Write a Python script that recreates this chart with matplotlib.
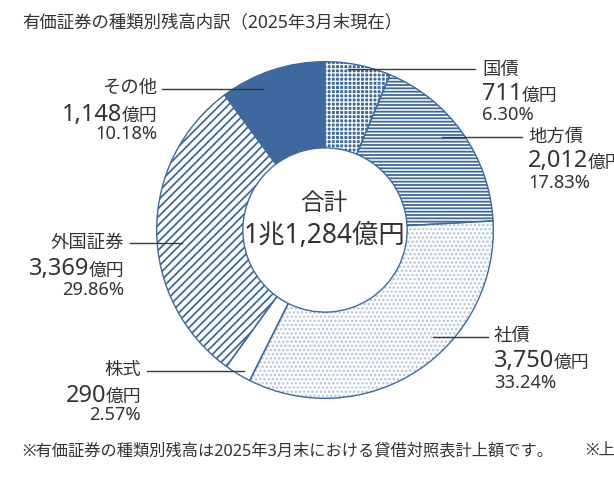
import matplotlib
matplotlib.use('Agg')
import matplotlib.pyplot as plt
from matplotlib.lines import Line2D

plt.rcParams['font.family'] = ['Noto Sans', 'Noto Sans CJK JP', 'DejaVu Sans']
plt.rcParams['hatch.linewidth'] = 1.4

# ---- data ----
title = '有価証券の種類別残高内訳（2025年3月末現在）'
categories = ['国債', '地方債', '社債', '株式', '外国証券', 'その他']
amounts = [711, 2012, 3750, 290, 3369, 1148]
amount_labels = ['711', '2,012', '3,750', '290', '3,369', '1,148']
percents = ['6.30%', '17.83%', '33.24%', '2.57%', '29.86%', '10.18%']
unit = '億円'
total_title = '合計'
total_label = '1兆1,284億円'
footnote = '※有価証券の種類別残高は2025年3月末における貸借対照表計上額です。'
footnote2 = '※上'

# ---- style ----
BLUE = '#3d699f'
LIGHT = '#b3c3e0'
TXT = '#333333'
styles = [
    dict(facecolor=BLUE, edgecolor='white', hatch='++++', hlw=0.9),   # 国債
    dict(facecolor='white', edgecolor=BLUE, hatch='-----', hlw=1.3),  # 地方債
    dict(facecolor='white', edgecolor=LIGHT, hatch='....', hlw=1.2),  # 社債
    dict(facecolor='white', edgecolor='white', hatch=None, hlw=1.0),  # 株式
    dict(facecolor='white', edgecolor=BLUE, hatch='////', hlw=1.3),   # 外国証券
    dict(facecolor=BLUE, edgecolor=BLUE, hatch=None, hlw=1.0),        # その他
]
# layout (pixels, top-left origin): side, text x, name y, amount y, pct y, leader x0, x1, y
layout = [
    ('L', 482, 70, 92, 115, 348, 475, 69),
    ('L', 528, 137, 159, 183, 442, 522, 137),
    ('L', 494, 336, 359, 383, 433, 488, 337),
    ('R', 141, 370, 393, 415, 147, 244, 371),
    ('R', 124, 243, 267, 290, 130, 182, 243),
    ('R', 157, 88, 112, 134, 162, 263, 89),
]

W, H = 614, 491
fig = plt.figure(figsize=(W / 100, H / 100), dpi=100)
cx, cy, R = 325, 230, 170
ax = fig.add_axes([(cx - R) / W, (H - cy - R) / H, 2 * R / W, 2 * R / H])
ring = 0.512

wedges, _ = ax.pie(amounts, startangle=90, counterclock=False, radius=1,
                   wedgeprops=dict(width=ring, linewidth=0))
for w, st in zip(wedges, styles):
    w.set_facecolor(st['facecolor'])
    w.set_edgecolor(st['edgecolor'])
    w.set_linewidth(0)
    if st['hatch']:
        w.set_hatch(st['hatch'])
        if hasattr(w, 'set_hatch_linewidth'):
            w.set_hatch_linewidth(st['hlw'])
ax.pie(amounts, startangle=90, counterclock=False, radius=1,
       wedgeprops=dict(width=ring, facecolor='none', edgecolor=BLUE, linewidth=1.0))
ax.set_xlim(-1.01, 1.01)
ax.set_ylim(-1.01, 1.01)
ax.set_aspect('equal')
ax.axis('off')


def fx(x):
    return x / W


def fy(y):
    return 1 - y / H


renderer = fig.canvas.get_renderer()
NAME_FS, PCT_FS, NUM_FS, UNIT_FS = 13.2, 13.2, 17.0, 12.8

for i, (side, tx, ny, ay, py, lx0, lx1, ly) in enumerate(layout):
    ha = 'left' if side == 'L' else 'right'
    fig.text(fx(tx), fy(ny), categories[i], fontsize=NAME_FS, ha=ha, va='center', color=TXT)
    fig.text(fx(tx), fy(py), percents[i], fontsize=PCT_FS, ha=ha, va='center', color=TXT)
    base = ay + 8.5
    if side == 'L':
        t = fig.text(fx(tx), fy(base), amount_labels[i], fontsize=NUM_FS, ha='left',
                     va='baseline', color=TXT)
        bb = t.get_window_extent(renderer)
        fig.text(bb.x1 / W - 1 / W, fy(base), unit, fontsize=UNIT_FS, ha='left',
                 va='baseline', color=TXT)
    else:
        u = fig.text(fx(tx), fy(base), unit, fontsize=UNIT_FS, ha='right',
                     va='baseline', color=TXT)
        bb = u.get_window_extent(renderer)
        fig.text(bb.x0 / W + 1 / W, fy(base), amount_labels[i], fontsize=NUM_FS,
                 ha='right', va='baseline', color=TXT)
    fig.add_artist(Line2D([fx(lx0), fx(lx1)], [fy(ly), fy(ly)], transform=fig.transFigure,
                          color='#3a3a3a', linewidth=1.0, zorder=5))

fig.text(fx(324), fy(204), total_title, fontsize=17, ha='center', va='center', color=TXT)
fig.text(fx(325), fy(236), total_label, fontsize=19, ha='center', va='center', color=TXT)

fig.text(fx(22), fy(22), title, fontsize=12.5, ha='left', va='center', color=TXT)
fig.text(fx(22), fy(451), footnote, fontsize=11.7, ha='left', va='center', color=TXT)
fig.text(fx(585), fy(451), footnote2, fontsize=11.7, ha='left', va='center', color=TXT)

fig.savefig('out.png', dpi=100)
